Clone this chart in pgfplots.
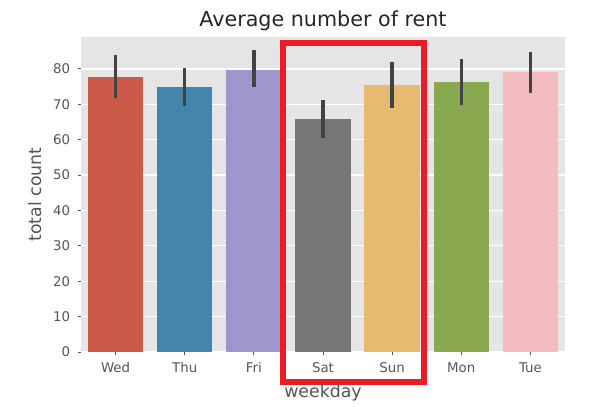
\documentclass[border=0pt]{standalone}
\usepackage{pgfplots}
\pgfplotsset{compat=1.18}
\usepackage{fontspec}
\setmainfont{DejaVu Sans}
\definecolor{bgc}{RGB}{229,229,229}
\definecolor{txtc}{RGB}{85,85,85}
\definecolor{cWed}{RGB}{203,90,72}
\definecolor{cThu}{RGB}{67,133,172}
\definecolor{cFri}{RGB}{158,150,202}
\definecolor{cSat}{RGB}{119,119,119}
\definecolor{cSun}{RGB}{230,186,113}
\definecolor{cMon}{RGB}{137,168,80}
\definecolor{cTue}{RGB}{245,188,192}
\definecolor{errc}{RGB}{66,66,66}
\definecolor{boxred}{RGB}{237,28,36}
\begin{document}
\begin{tikzpicture}[x=1pt,y=1pt]
\begin{axis}[
  scale only axis,
  width=363pt, height=236.25pt,
  xmin=-0.5, xmax=6.5, ymin=0, ymax=89,
  axis background/.style={fill=bgc},
  axis line style={draw=none},
  xtick={0,1,2,3,4,5,6},
  xticklabels={Wed,Thu,Fri,Sat,Sun,Mon,Tue},
  ytick={0,10,...,80},
  xtick pos=bottom, ytick pos=left,
  ymajorgrids, grid style={white, line width=1pt},
  tick align=outside,
  major tick length=2.6pt,
  tick style={txtc, line width=0.6pt},
  tick label style={font=\fontsize{10}{12}\selectfont, text=txtc},
  xticklabel style={yshift=-2pt},
  yticklabel style={xshift=-2pt},
  /pgf/number format/assume math mode=true,
  xlabel={weekday}, ylabel={total count},
  label style={font=\fontsize{13}{15}\selectfont, text=txtc},
  xlabel style={at={(axis description cs:0.5,0)}, anchor=base, yshift=-33.75pt},
  ylabel style={at={(axis description cs:0,0.5)}, anchor=base, yshift=30pt},
  title={Average number of rent},
  title style={font=\fontsize{15.5}{18}\selectfont, text=black!85, at={(axis description cs:0.5,1)}, anchor=base, yshift=2pt},
  clip=false,
  every axis plot/.append style={ybar, bar width=0.8, bar shift=0pt, draw=none,
    error bars/y dir=both, error bars/y explicit, error bars/error mark=none,
    error bars/error bar style={line width=2.5pt, draw=errc}},
]
\addplot[fill=cWed] coordinates {(0,77.8) += (0,6.2) -= (0,5.9)};
\addplot[fill=cThu] coordinates {(1,74.9) += (0,5.3) -= (0,5.4)};
\addplot[fill=cFri] coordinates {(2,79.8) += (0,5.4) -= (0,5.0)};
\addplot[fill=cSat] coordinates {(3,65.9) += (0,5.3) -= (0,5.4)};
\addplot[fill=cSun] coordinates {(4,75.4) += (0,6.5) -= (0,6.4)};
\addplot[fill=cMon] coordinates {(5,76.2) += (0,6.5) -= (0,6.4)};
\addplot[fill=cTue] coordinates {(6,79.1) += (0,5.6) -= (0,6.0)};
\draw[boxred, line width=4.8pt] (axis cs:2.42,87.3) rectangle (axis cs:4.46,-8.4);
\end{axis}
\pgfresetboundingbox
\path[use as bounding box] (current axis.south west) ++(-60.75pt,-40.5pt) rectangle ([xshift=38.25pt,yshift=27.75pt]current axis.north east);
\end{tikzpicture}
\end{document}
